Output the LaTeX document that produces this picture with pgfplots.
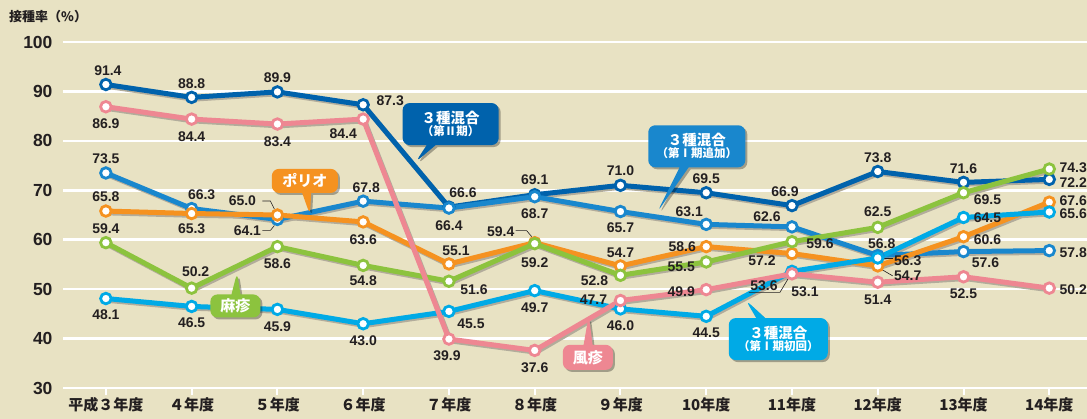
\documentclass[border=0pt]{standalone}
\usepackage{fontspec}
\setmainfont{Liberation Sans}
\newfontfamily\cjk{Noto Sans CJK JP}
\usepackage{pgfplots}
\pgfplotsset{compat=1.18}
\usepackage{pgfplotstable}
\usetikzlibrary{shapes.callouts,shadows}

\definecolor{bg}{RGB}{232,226,195}
\definecolor{txt}{RGB}{35,31,32}
\definecolor{shd}{RGB}{178,172,155}
\definecolor{cDB}{RGB}{0,98,172}
\definecolor{cMB}{RGB}{25,135,205}
\definecolor{cCY}{RGB}{0,170,230}
\definecolor{cOR}{RGB}{245,146,32}
\definecolor{cGR}{RGB}{140,195,62}
\definecolor{cPK}{RGB}{238,135,146}

% x: 0 = 平成3年度 ... 11 = 14年度
\pgfplotstableread{
x  db   pk   mb   or   gr   cy
0  91.4 86.9 73.5 65.8 59.4 48.1
1  88.8 84.4 66.3 65.3 50.2 46.5
2  89.9 83.4 64.1 65.0 58.6 45.9
3  87.3 84.4 67.8 63.6 54.8 43.0
4  66.6 39.9 66.4 55.1 51.6 45.5
5  69.1 37.6 68.7 59.4 59.2 49.7
6  71.0 47.7 65.7 54.7 52.8 46.0
7  69.5 49.9 63.1 58.6 55.5 44.5
8  66.9 53.1 62.6 57.2 59.6 53.6
9  73.8 51.4 56.8 54.7 62.5 56.3
10 71.6 52.5 57.6 60.6 69.5 64.5
11 72.2 50.2 57.8 67.6 74.3 65.6
}\data

\tikzset{
    lbl/.style={font=\bfseries\fontsize{14}{14}\selectfont, text=txt, inner sep=0pt},
    ldr/.style={line width=0.6pt, draw=txt},
    co/.style={rectangle callout, rounded corners=7pt, text=white, align=center,
        inner sep=2pt, callout pointer width=9pt, font=\cjk\bfseries,
        drop shadow={shadow xshift=2pt, shadow yshift=-2pt, fill=black, opacity=0.3}},
    ln/.style={line width=5pt, line join=round},
    sh/.style={line width=5pt, line join=round, draw=shd, xshift=1.5pt, yshift=-1.8pt},
}

\newcommand{\lab}[5]{\node[lbl] at (axis cs:#1,#2) [xshift=#3pt,yshift=#4pt] {#5};}

\begin{document}
\begin{tikzpicture}
\path[use as bounding box, fill=bg] (-63pt,-31pt) rectangle (1024pt,388pt);
\begin{axis}[
    scale only axis,
    width=1024pt, height=346pt,
    xmin=-0.50, xmax=11.44,
    ymin=30, ymax=100,
    axis line style={draw=none},
    ytick={30,40,...,100},
    ymajorgrids,
    grid style={white, line width=2.6pt},
    xtick={0,...,11},
    xticklabels={平成３年度,４年度,５年度,６年度,７年度,８年度,９年度,10年度,11年度,12年度,13年度,14年度},
    xtick pos=lower, ytick pos=left,
    tick align=outside,
    major tick length=7pt,
    xtick style={white, line width=2pt},
    ytick style={draw=none},
    yticklabel style={font=\bfseries\fontsize{17.5}{18}\selectfont, text=txt},
    xticklabel style={font=\cjk\bfseries\fontsize{15}{15}\selectfont, text=txt, yshift=1pt},
    /pgf/number format/assume math mode=true,
    /pgf/number format/fixed,
    clip=false,
]

% shadows
\addplot[sh, no marks] table[y=db] {\data};
\addplot[sh, no marks] table[y=mb] {\data};
\addplot[sh, no marks] table[y=or] {\data};
\addplot[sh, no marks] table[y=gr] {\data};
\addplot[sh, no marks] table[y=cy] {\data};
\addplot[sh, no marks] table[y=pk] {\data};

% lines
\addplot[ln, no marks, cDB] table[y=db] {\data};
\addplot[ln, no marks, cMB] table[y=mb] {\data};
\addplot[ln, no marks, cOR] table[y=or] {\data};
\addplot[ln, no marks, cGR] table[y=gr] {\data};
\addplot[ln, no marks, cCY] table[y=cy] {\data};
\addplot[ln, no marks, cPK] table[y=pk] {\data};

% markers
\addplot[only marks, mark=*, mark size=5.3pt, mark options={fill=white, draw=cDB, line width=2.8pt}] table[y=db] {\data};
\addplot[only marks, mark=*, mark size=5.3pt, mark options={fill=white, draw=cMB, line width=2.8pt}] table[y=mb] {\data};
\addplot[only marks, mark=*, mark size=5.3pt, mark options={fill=white, draw=cOR, line width=2.8pt}] table[y=or] {\data};
\addplot[only marks, mark=*, mark size=5.3pt, mark options={fill=white, draw=cGR, line width=2.8pt}] table[y=gr] {\data};
\addplot[only marks, mark=*, mark size=5.3pt, mark options={fill=white, draw=cCY, line width=2.8pt}] table[y=cy] {\data};
\addplot[only marks, mark=*, mark size=5.3pt, mark options={fill=white, draw=cPK, line width=2.8pt}] table[y=pk] {\data};

% y title
\node[anchor=west, font=\cjk\bfseries\fontsize{13}{13}\selectfont, text=txt, inner sep=0pt]
    at (rel axis cs:0,1) [xshift=-54pt, yshift=25pt] {接種率（\%）};

% value labels: 3種混合(第II期)
\lab{0}{91.4}{2}{14}{91.4}
\lab{1}{88.8}{0}{14}{88.8}
\lab{2}{89.9}{0}{14}{89.9}
\lab{3}{87.3}{27}{4}{87.3}
\lab{4}{66.6}{14}{14}{66.6}
\lab{5}{69.1}{0}{15}{69.1}
\lab{6}{71.0}{0}{15}{71.0}
\lab{7}{69.5}{0}{14}{69.5}
\lab{8}{66.9}{-7}{14}{66.9}
\lab{9}{73.8}{0}{14}{73.8}
\lab{10}{71.6}{0}{14}{71.6}
\lab{11}{72.2}{24}{-3}{72.2}
% 風疹
\lab{0}{86.9}{0}{-17}{86.9}
\lab{1}{84.4}{0}{-18}{84.4}
\lab{2}{83.4}{0}{-18}{83.4}
\lab{3}{84.4}{-20}{-15}{84.4}
\lab{4}{39.9}{-2}{-17}{39.9}
\lab{5}{37.6}{0}{-17}{37.6}
\lab{6}{47.7}{-27}{1}{47.7}
\lab{7}{49.9}{-25}{-2}{49.9}
\lab{8}{53.1}{13}{-18}{53.1}
\lab{9}{51.4}{0}{-18}{51.4}
\lab{10}{52.5}{0}{-17}{52.5}
\lab{11}{50.2}{24}{-2}{50.2}
% 3種混合(第I期追加)
\lab{0}{73.5}{0}{14}{73.5}
\lab{1}{66.3}{10}{14}{66.3}
\lab{2}{64.1}{-30}{-11}{64.1}
\lab{3}{67.8}{3}{13}{67.8}
\lab{4}{66.4}{0}{-18}{66.4}
\lab{5}{68.7}{0}{-17}{68.7}
\lab{6}{65.7}{0}{-16}{65.7}
\lab{7}{63.1}{-17}{13}{63.1}
\lab{8}{62.6}{-25}{10}{62.6}
\lab{9}{56.8}{4}{12}{56.8}
\lab{10}{57.6}{22}{-11}{57.6}
\lab{11}{57.8}{24}{-2}{57.8}
% ポリオ
\lab{0}{65.8}{0}{14}{65.8}
\lab{1}{65.3}{0}{-15}{65.3}
\lab{2}{65.0}{-35}{14}{65.0}
\lab{3}{63.6}{0}{-18}{63.6}
\lab{4}{55.1}{7}{13}{55.1}
\lab{5}{59.4}{-34}{11}{59.4}
\lab{6}{54.7}{0}{13}{54.7}
\lab{7}{58.6}{-24}{0}{58.6}
\lab{8}{57.2}{-30}{-7}{57.2}
\lab{9}{54.7}{30}{-10}{54.7}
\lab{10}{60.6}{24}{-3}{60.6}
\lab{11}{67.6}{24}{1}{67.6}
% 麻疹
\lab{0}{59.4}{0}{14}{59.4}
\lab{1}{50.2}{4}{16}{50.2}
\lab{2}{58.6}{0}{-17}{58.6}
\lab{3}{54.8}{0}{-15}{54.8}
\lab{4}{51.6}{25}{-8}{51.6}
\lab{5}{59.2}{0}{-19}{59.2}
\lab{6}{52.8}{-26}{-5}{52.8}
\lab{7}{55.5}{-25}{-5}{55.5}
\lab{8}{59.6}{28}{-2}{59.6}
\lab{9}{62.5}{0}{16}{62.5}
\lab{10}{69.5}{24}{-7}{69.5}
\lab{11}{74.3}{24}{1}{74.3}
% 3種混合(第I期初回)
\lab{0}{48.1}{0}{-16}{48.1}
\lab{1}{46.5}{0}{-16}{46.5}
\lab{2}{45.9}{0}{-17}{45.9}
\lab{3}{43.0}{0}{-17}{43.0}
\lab{4}{45.5}{22}{-12}{45.5}
\lab{5}{49.7}{0}{-17}{49.7}
\lab{6}{46.0}{0}{-17}{46.0}
\lab{7}{44.5}{0}{-16}{44.5}
\lab{8}{53.6}{-28}{-14}{53.6}
\lab{9}{56.3}{30}{-3}{56.3}
\lab{10}{64.5}{24}{0}{64.5}
\lab{11}{65.6}{24}{-2}{65.6}

% leader lines
\draw[ldr] ([shift={(-15pt,14pt)}]axis cs:2,65.0) -- ([shift={(-7pt,14pt)}]axis cs:2,65.0) -- ([shift={(-3pt,6pt)}]axis cs:2,65.0);
\draw[ldr] ([shift={(-15pt,-11pt)}]axis cs:2,64.1) -- ([shift={(-7pt,-11pt)}]axis cs:2,64.1) -- ([shift={(-3pt,-6pt)}]axis cs:2,64.1);
\draw[ldr] ([shift={(-19pt,12pt)}]axis cs:5,59.4) -- ([shift={(-8pt,12pt)}]axis cs:5,59.4) -- ([shift={(-3pt,6pt)}]axis cs:5,59.4);
\draw[ldr] ([shift={(-43pt,-21pt)}]axis cs:8,53.6) -- ([shift={(-12pt,-21pt)}]axis cs:8,53.6) -- ([shift={(-3pt,-6pt)}]axis cs:8,53.6);
\draw[ldr] ([shift={(-7pt,0pt)}]axis cs:9,56.3) -- ([shift={(15pt,0pt)}]axis cs:9,56.3);
\draw[ldr] ([shift={(3pt,-3pt)}]axis cs:9,54.7) -- ([shift={(15pt,-10pt)}]axis cs:9,54.7);

% callouts
\coordinate (tA) at (axis cs:3.61,75.7);
\coordinate (tB) at (axis cs:6.43,65.6);
\coordinate (tC) at (axis cs:2.38,65.0);
\coordinate (tD) at (axis cs:1.53,53.4);
\coordinate (tE) at (axis cs:5.63,44.7);
\coordinate (tF) at (axis cs:7.46,47.8);
\node[co, fill=cDB, callout absolute pointer={(tA)}, minimum width=96pt, minimum height=42pt]
    at (axis cs:4.02,83.4) {{\fontsize{14.5}{17}\selectfont ３種混合}\\{\fontsize{11.5}{13}\selectfont （第Ⅱ期）}};
\node[co, fill=cMB, callout absolute pointer={(tB)}, minimum width=97pt, minimum height=42pt]
    at (axis cs:6.89,78.9) {{\fontsize{14.5}{17}\selectfont ３種混合}\\{\fontsize{11.5}{13}\selectfont （第Ⅰ期追加）}};
\node[co, fill=cOR, callout absolute pointer={(tC)}, minimum width=66pt, minimum height=24pt]
    at (axis cs:2.32,71.9) {\fontsize{15}{15}\selectfont ポリオ};
\node[co, fill=cGR, callout absolute pointer={(tD)}, minimum width=50pt, minimum height=23pt]
    at (axis cs:1.51,46.6) {\fontsize{15}{15}\selectfont 麻疹};
\node[co, fill=cPK, callout absolute pointer={(tE)}, minimum width=50pt, minimum height=25pt]
    at (axis cs:5.62,36.2) {\fontsize{15}{15}\selectfont 風疹};
\node[co, fill=cCY, callout absolute pointer={(tF)}, minimum width=99pt, minimum height=42pt]
    at (axis cs:7.84,39.9) {{\fontsize{14.5}{17}\selectfont ３種混合}\\{\fontsize{11.5}{13}\selectfont （第Ⅰ期初回）}};
\end{axis}
\end{tikzpicture}
\end{document}
